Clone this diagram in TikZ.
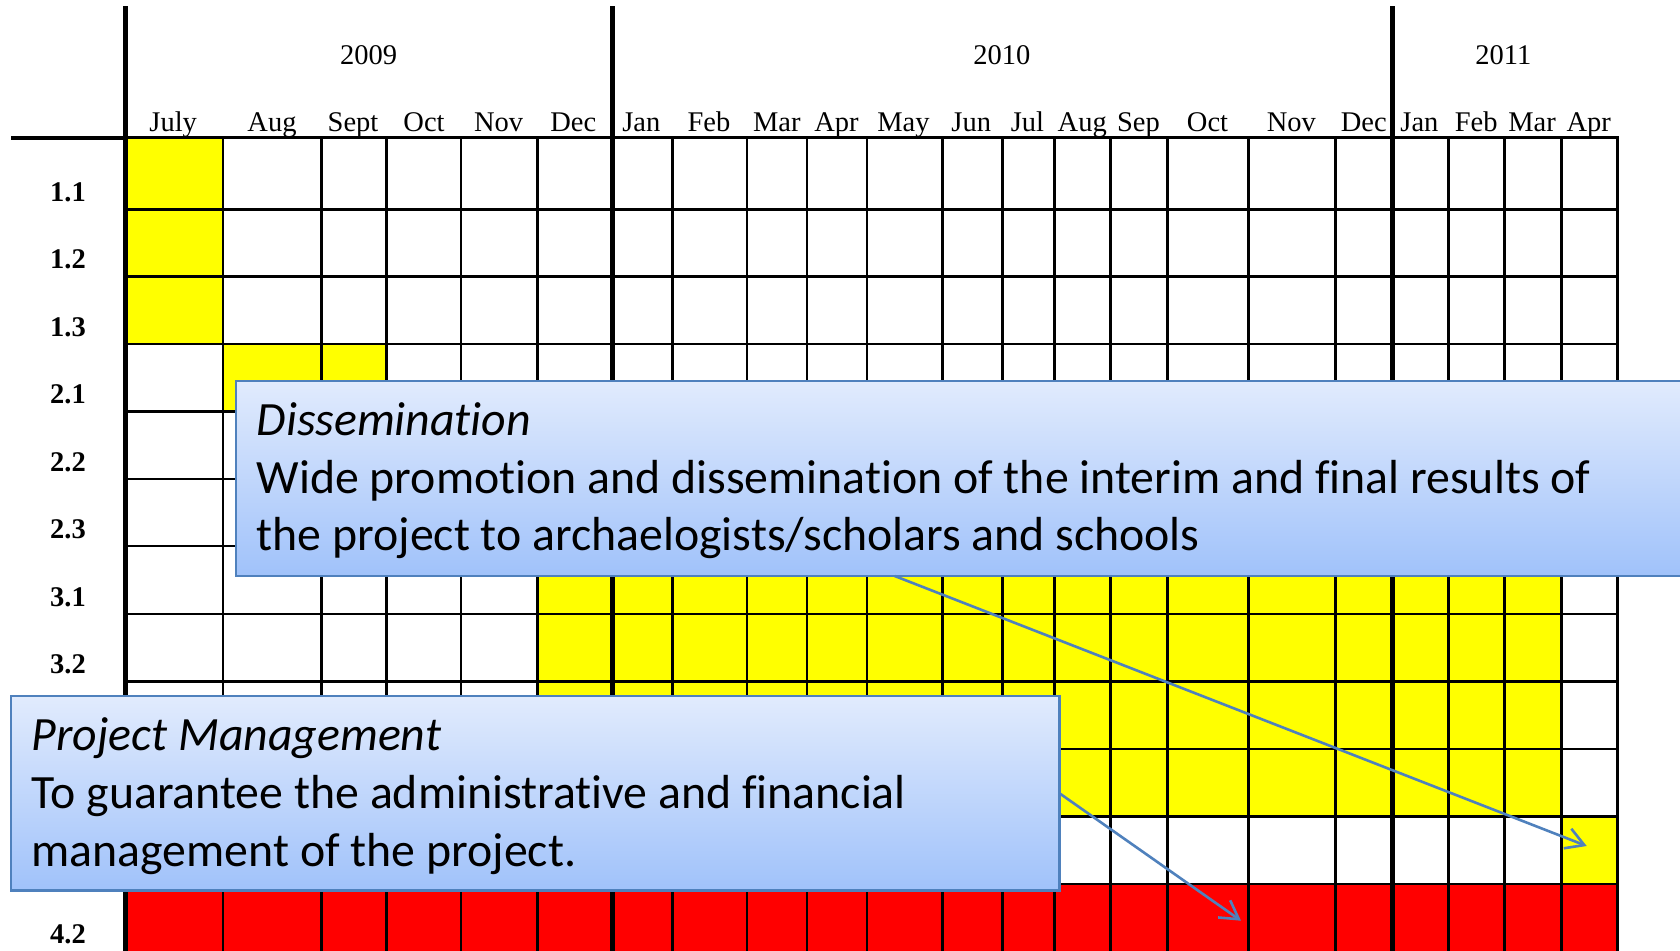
\documentclass[tikz,border=0pt]{standalone}
\usepackage{fontspec}
\setmainfont{Liberation Serif}
\newfontfamily\calfont[Ligatures={NoCommon}]{Carlito}
\usetikzlibrary{arrows.meta}
\definecolor{boxline}{RGB}{79,129,189}
\definecolor{boxtop}{RGB}{225,235,253}
\definecolor{boxbot}{RGB}{160,194,250}
\definecolor{cellyel}{RGB}{255,255,0}
\definecolor{cellred}{RGB}{255,0,0}
\begin{document}
\begin{tikzpicture}[x=1pt,y=-1pt,
  thingrid/.style={line width=2.7pt,black,line cap=rect},
  thickgrid/.style={line width=4.5pt,black,line cap=rect},
  hdrlbl/.style={anchor=base,inner sep=0pt,font=\fontsize{28.5}{34}\selectfont},
  rowlbl/.style={anchor=base,inner sep=0pt,font=\fontsize{28.5}{34}\selectfont\bfseries},
  callout/.style={draw=boxline,line width=2.5pt,top color=boxtop,bottom color=boxbot,
    anchor=north west,inner sep=0pt,outer sep=0pt},
  callhead/.style={anchor=base west,inner sep=0pt,font=\calfont\itshape\fontsize{47.8}{56}\selectfont},
  calltext/.style={anchor=base west,inner sep=0pt,font=\calfont\fontsize{47.8}{56}\selectfont},
  pointer/.style={draw=boxline,line width=2.6pt,-{Straight Barb[length=18pt,width=21pt]}}
]
\useasboundingbox (0,0) rectangle (1680,950);
\fill[white] (0,0) rectangle (1680,950);
\clip (0,0) rectangle (1680,950);

% ---- cell fills ----
\fill[cellyel] (125.5,137.7) rectangle (223,344);
\fill[cellyel] (223,344) rectangle (386.5,411.5);
\fill[cellyel] (537.5,546) rectangle (1561.8,816.3);
\fill[cellyel] (1561.8,816.3) rectangle (1617.5,884);
\fill[cellred] (125.5,884) rectangle (1617.5,960);

% ---- grid ----
\foreach \yy in {137.7,209.3,276.3,344,411.5,479,546,614,681.3,749,816.3,884}
  \draw[thingrid] (125.5,\yy) -- (1617.5,\yy);
\foreach \xx in {223,321.2,386.5,461,537.5,672.5,747,807,867,942.5,1002.5,1054.6,1110.5,1167.5,1248.7,1335.3,1448.5,1504.3,1561.8,1617.5}
  \draw[thingrid] (\xx,137.7) -- (\xx,960);
\foreach \xx in {125.5,612.5,1392.5}
  \draw[thickgrid] (\xx,8) -- (\xx,960);
\draw[line width=3.6pt,black] (11,137.7) -- (125.5,137.7);

% ---- years ----
\node[hdrlbl] (y2009) at (368.5,64.3) {2009};
\node[hdrlbl] (y2010) at (1001.8,64.3) {2010};
\node[hdrlbl] (y2011) at (1503.3,64.3) {2011};

% ---- months ----
\node[hdrlbl] (m01) at (173.2,131) {July};
\node[hdrlbl] (m02) at (272,131) {Aug};
\node[hdrlbl] (m03) at (353,131) {Sept};
\node[hdrlbl] (m04) at (424,131) {Oct};
\node[hdrlbl] (m05) at (498.6,131) {Nov};
\node[hdrlbl] (m06) at (573.3,131) {Dec};
\node[hdrlbl] (m07) at (641.3,131) {Jan};
\node[hdrlbl] (m08) at (709,131) {Feb};
\node[hdrlbl] (m09) at (776.8,131) {Mar};
\node[hdrlbl] (m10) at (836.5,131) {Apr};
\node[hdrlbl] (m11) at (903.5,131) {May};
\node[hdrlbl] (m12) at (971.2,131) {Jun};
\node[hdrlbl] (m13) at (1027.5,131) {Jul};
\node[hdrlbl] (m14) at (1082.2,131) {Aug};
\node[hdrlbl] (m15) at (1138.5,131) {Sep};
\node[hdrlbl] (m16) at (1207.5,131) {Oct};
\node[hdrlbl] (m17) at (1291.3,131) {Nov};
\node[hdrlbl] (m18) at (1363.7,131) {Dec};
\node[hdrlbl] (m19) at (1419.4,131) {Jan};
\node[hdrlbl] (m20) at (1476.2,131) {Feb};
\node[hdrlbl] (m21) at (1532,131) {Mar};
\node[hdrlbl] (m22) at (1588.8,131) {Apr};

% ---- row labels ----
\node[rowlbl] (r11) at (68,201.7) {1.1};
\node[rowlbl] (r12) at (68,268.7) {1.2};
\node[rowlbl] (r13) at (68,336.4) {1.3};
\node[rowlbl] (r21) at (68,403.9) {2.1};
\node[rowlbl] (r22) at (68,471.4) {2.2};
\node[rowlbl] (r23) at (68,538.4) {2.3};
\node[rowlbl] (r31) at (68,606.4) {3.1};
\node[rowlbl] (r32) at (68,673.7) {3.2};
\node[rowlbl] (r42) at (68,943.4) {4.2};

% ---- callouts ----
\node[callout,minimum width=1500pt,minimum height=195pt] (dis) at (236,381) {};
\node[callhead] (dis1) at (256.5,435) {Dissemination};
\node[calltext] (dis2) at (256.5,493.3) {Wide promotion and dissemination of the interim and final results of};
\node[calltext] (dis3) at (256.5,550.5) {the project to archaelogists/scholars and schools};

\node[callout,minimum width=1048.5pt,minimum height=194.7pt] (pm) at (11,696) {};
\node[callhead] (pm1) at (31.5,750) {Project Management};
\node[calltext] (pm2) at (31.5,808.3) {To guarantee the administrative and financial};
\node[calltext] (pm3) at (31.5,866.7) {management of the project.};

% ---- pointers ----
\coordinate (dissrc) at (894.7,576);
\coordinate (distgt) at (1586.7,846);
\coordinate (pmsrc) at (1059.5,793.3);
\coordinate (pmtgt) at (1241,920.7);
\draw[pointer] (dissrc) -- (distgt);
\draw[pointer] (pmsrc) -- (pmtgt);
\end{tikzpicture}
\end{document}
